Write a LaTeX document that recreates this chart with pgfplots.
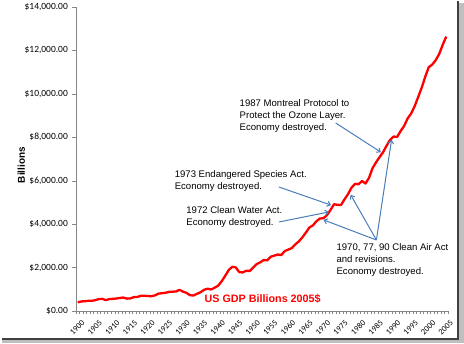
\documentclass[border=0pt]{standalone}
\usepackage{pgfplots}
\pgfplotsset{compat=1.18}
\usepackage{fontspec}
\setmainfont{Liberation Sans}
\newfontfamily\calibri{Carlito}
\usetikzlibrary{arrows.meta}
\definecolor{axgray}{RGB}{134,134,134}
\definecolor{arrblue}{RGB}{74,126,187}
\begin{document}
\begin{tikzpicture}[x=1bp,y=1bp]
\useasboundingbox (0,0) rectangle (464,343);
\fill[white] (0,0) rectangle (464,343);
% frame shadow
\fill[black!25] (459,0) rectangle (464,340);
\fill[black!25] (2,0) rectangle (464,4);
\draw[black!75,line width=1.2bp] (458,342) -- (458,4) -- (2,4);
\begin{axis}[
  at={(76bp,32bp)}, anchor=south west,
  scale only axis, width=372bp, height=304bp,
  xmin=1899.5, xmax=2005.5, ymin=0, ymax=14000,
  scaled y ticks=false, scaled x ticks=false,
  axis lines*=left,
  axis line style={axgray},
  clip=false,
  tick align=outside,
  xtick={1900,1905,...,2005},
  xticklabel style={font=\calibri\fontsize{8.3}{9}\selectfont, rotate=45, anchor=north east, inner sep=0.5bp, yshift=-5bp},
  major x tick style={draw=none},
  minor xtick={1899.5,1900.5,...,2005.5},
  minor tick length=3bp,
  minor x tick style={axgray},
  ytick={0,2000,...,14000},
  yticklabels={\$0.00,\$2{,}000.00,\$4{,}000.00,\$6{,}000.00,\$8{,}000.00,\$10{,}000.00,\$12{,}000.00,\$14{,}000.00},
  yticklabel style={font=\calibri\fontsize{9.5}{10}\selectfont, inner sep=1bp, xshift=-3bp},
  major y tick style={axgray},
  major tick length=4bp,
  /pgf/number format/assume math mode=true,
  xticklabel={\pgfmathprintnumber[1000 sep={},assume math mode=true]{\tick}},
  ylabel={Billions},
  ylabel style={font=\bfseries\fontsize{10}{12}\selectfont, at={(rel axis cs:-0.147,0.48)}, anchor=center},
]
\addplot[red, line width=2.3bp, line join=round] coordinates {
(1900,400)(1901,440)(1902,450)(1903,470)(1904,470)(1905,500)(1906,550)(1907,560)(1908,500)(1909,550)
(1910,560)(1911,575)(1912,600)(1913,620)(1914,570)(1915,580)(1916,640)(1917,650)(1918,700)(1919,700)
(1920,690)(1921,680)(1922,720)(1923,800)(1924,820)(1925,840)(1926,880)(1927,890)(1928,900)(1929,977)
(1930,892)(1931,834)(1932,725)(1933,716)(1934,794)(1935,865)(1936,977)(1937,1027)(1938,991)(1939,1072)
(1940,1166)(1941,1366)(1942,1618)(1943,1883)(1944,2035)(1945,2012)(1946,1792)(1947,1776)(1948,1854)(1949,1845)
(1950,2006)(1951,2161)(1952,2244)(1953,2347)(1954,2332)(1955,2500)(1956,2550)(1957,2601)(1958,2578)(1959,2762)
(1960,2830)(1961,2897)(1962,3072)(1963,3206)(1964,3392)(1965,3610)(1966,3845)(1967,3943)(1968,4133)(1969,4262)
(1970,4270)(1971,4413)(1972,4647)(1973,4917)(1974,4890)(1975,4880)(1976,5141)(1977,5378)(1978,5678)(1979,5855)
(1980,5839)(1981,5987)(1982,5871)(1983,6136)(1984,6577)(1985,6849)(1986,7087)(1987,7313)(1988,7614)(1989,7886)
(1990,8034)(1991,8015)(1992,8287)(1993,8523)(1994,8871)(1995,9094)(1996,9434)(1997,9854)(1998,10284)(1999,10780)
(2000,11226)(2001,11347)(2002,11553)(2003,11841)(2004,12264)(2005,12638)
};
\begin{scope}[font=\fontsize{9.6}{12}\selectfont]
\node[anchor=north west, inner sep=0, align=left] at (axis cs:1946.1,9763) {1987 Montreal Protocol to\\Protect the Ozone Layer.\\Economy destroyed.};
\node[anchor=north west, inner sep=0, align=left] at (axis cs:1927.6,6461) {1973 Endangered Species Act.\\Economy destroyed.};
\node[anchor=north west, inner sep=0, align=left] at (axis cs:1930.9,4803) {1972 Clean Water Act.\\Economy destroyed.};
\node[anchor=north west, inner sep=0, align=left] at (axis cs:1973.7,3131) {1970, 77, 90 Clean Air Act\\and revisions.\\Economy destroyed.};
\end{scope}
\node[anchor=north west, inner sep=0, text=red, font=\bfseries\fontsize{10.8}{12}\selectfont] at (axis cs:1936.1,760) {US GDP Billions 2005\$};
\begin{scope}[arrblue, line width=1bp, -{To[length=4bp,width=6bp]}]
\draw (axis cs:1973.5,8658) -- (axis cs:1986.3,7322);
\draw (axis cs:1957.3,5711) -- (axis cs:1972.1,4882);
\draw (axis cs:1957.3,4099) -- (axis cs:1971.5,4559);
\draw (axis cs:1985.1,3270) -- (axis cs:1970.1,4191);
\draw (axis cs:1985.1,3270) -- (axis cs:1977.8,5342);
\draw (axis cs:1985.1,3270) -- (axis cs:1989.4,7875);
\end{scope}
\end{axis}
\end{tikzpicture}
\end{document}
